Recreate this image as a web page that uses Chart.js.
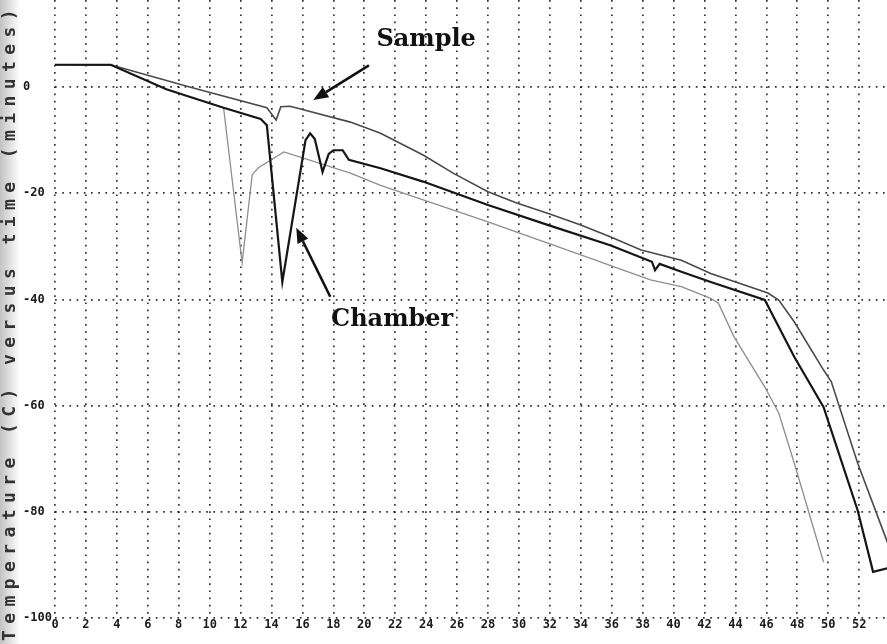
<!DOCTYPE html>
<html>
<head>
<meta charset="utf-8">
<script src="https://cdn.jsdelivr.net/npm/chart.js@4.4.1/dist/chart.umd.min.js"></script>
<style>
  html, body { margin: 0; padding: 0; background: #fff; }
  #wrap { width: 887px; height: 644px; position: relative; }
</style>
</head>
<body>
<div id="wrap"><canvas id="c" width="887" height="644"></canvas></div>
<script>
// ---- Data (time in minutes, temperature in °C) ----
const sampleTime = [0, 3.7, 8.7, 13.7, 14.3, 14.6, 15.2, 19.1, 21.05, 23.8, 25.8, 28, 29.9, 31.9, 34, 35.9, 37.9, 40.5, 42.4, 46.1, 46.8, 47.8, 49.7, 50.2, 51.9, 53.9];
const sampleTemp = [4.2, 4.1, 0, -3.9, -6.2, -3.7, -3.6, -6.6, -8.7, -12.8, -16.3, -19.7, -21.9, -23.8, -26, -28.2, -30.7, -32.6, -35.1, -38.8, -40.1, -44.2, -53.3, -55.5, -70.8, -86.3];

const chamberTime = [0, 3.6, 7.2, 10.9, 13.3, 13.7, 14.7, 16.2, 16.5, 16.8, 17.3, 17.7, 18.0, 18.6, 19.0, 21.05, 23.8, 28, 31.9, 35.9, 38.6, 38.8, 39.1, 40.5, 42.4, 45.9, 47.8, 49.7, 51.9, 52.9, 53.9];
const chamberTemp = [4.2, 4.2, -0.4, -3.9, -6.0, -7.2, -36.7, -10, -8.7, -9.8, -16.0, -12.6, -11.9, -11.9, -13.7, -15.3, -17.8, -22.2, -26, -29.8, -32.9, -34.5, -33.3, -34.8, -36.7, -40.1, -50.8, -60.3, -79.7, -91.3, -90.6];

const thirdTime = [10.9, 12.1, 12.75, 13.15, 14.8, 19.1, 21.05, 28, 34, 38.5, 40.5, 42.4, 42.9, 43.9, 45.9, 46.8, 47.8, 49.7];
const thirdTemp = [-3.9, -33.1, -16.5, -15.2, -12.2, -16.2, -18.5, -25.4, -31.6, -36.3, -37.6, -39.8, -40.7, -47, -56.5, -61.4, -70.8, -89.5];

const xTickValues = [0,2,4,6,8,10,12,14,16,18,20,22,24,26,28,30,32,34,36,38,40,42,44,46,48,50,52];
const yTickValues = [-100,-80,-60,-40,-20,0];
const axisTitle = 'Temperature (C) versus time (minutes)';

// annotations: [label, textX, textY, arrowTailX, arrowTailY, arrowTipX, arrowTipY] in data units
const annotSample = ['Sample', 24.0, 8.85, 20.3, 4.1, 16.7, -2.45];
const annotChamber = ['Chamber', 21.8, -43.9, 17.8, -39.5, 15.6, -26.5];

function toPts(xs, ys) { return xs.map((x, i) => ({ x: x, y: ys[i] })); }

const bgPlugin = {
  id: 'bg',
  beforeDraw(chart) {
    const ctx = chart.ctx;
    ctx.save();
    ctx.fillStyle = '#ffffff';
    ctx.fillRect(0, 0, chart.width, chart.height);
    const g = ctx.createLinearGradient(0, 0, 20, 0);
    g.addColorStop(0, 'rgba(120,120,120,0.45)');
    g.addColorStop(1, 'rgba(120,120,120,0)');
    ctx.fillStyle = g;
    ctx.fillRect(0, 0, 20, chart.height);
    ctx.restore();
  }
};

const annotPlugin = {
  id: 'annot',
  afterDraw(chart) {
    const ctx = chart.ctx;
    const xs = chart.scales.x, ys = chart.scales.y;
    // axis title (vertical)
    ctx.save();
    ctx.translate(10, 322);
    ctx.rotate(-Math.PI / 2);
    ctx.font = 'bold 18px "DejaVu Sans Mono", monospace';
    try { ctx.letterSpacing = '6.4px'; } catch (e) {}
    ctx.fillStyle = '#333';
    ctx.textAlign = 'center';
    ctx.textBaseline = 'middle';
    ctx.fillText(axisTitle, 0, 0);
    ctx.restore();

    [annotSample, annotChamber].forEach(a => {
      const tx = xs.getPixelForValue(a[1]), ty = ys.getPixelForValue(a[2]);
      const x1 = xs.getPixelForValue(a[3]), y1 = ys.getPixelForValue(a[4]);
      const x2 = xs.getPixelForValue(a[5]), y2 = ys.getPixelForValue(a[6]);
      ctx.save();
      ctx.fillStyle = '#111';
      ctx.strokeStyle = '#111';
      ctx.font = 'bold 24px "DejaVu Serif", serif';
      ctx.textAlign = 'center';
      ctx.textBaseline = 'middle';
      ctx.fillText(a[0], tx, ty);
      const ang = Math.atan2(y2 - y1, x2 - x1);
      const headLen = 15, headW = 6;
      const bx = x2 - headLen * Math.cos(ang), by = y2 - headLen * Math.sin(ang);
      ctx.lineWidth = 2.6;
      ctx.beginPath();
      ctx.moveTo(x1, y1);
      ctx.lineTo(bx, by);
      ctx.stroke();
      ctx.beginPath();
      ctx.moveTo(x2, y2);
      ctx.lineTo(bx + headW * Math.sin(ang), by - headW * Math.cos(ang));
      ctx.lineTo(bx - headW * Math.sin(ang), by + headW * Math.cos(ang));
      ctx.closePath();
      ctx.fill();
      ctx.restore();
    });
  }
};

const gridStyle = {
  color: 'rgba(0,0,0,0.8)',
  lineWidth: 1.7,
  drawTicks: false
};
const borderStyle = { display: false, dash: [1.7, 5.5] };

new Chart(document.getElementById('c'), {
  type: 'line',
  data: {
    datasets: [
      { label: 'Sample', data: toPts(sampleTime, sampleTemp), borderColor: '#4a4a4a', borderWidth: 1.6, pointRadius: 0, tension: 0, order: 2 },
      { label: 'Third', data: toPts(thirdTime, thirdTemp), borderColor: '#8e8e8e', borderWidth: 1.3, pointRadius: 0, tension: 0, order: 3 },
      { label: 'Chamber', data: toPts(chamberTime, chamberTemp), borderColor: '#151515', borderWidth: 2.2, pointRadius: 0, tension: 0, order: 1 }
    ]
  },
  options: {
    responsive: false,
    animation: false,
    events: [],
    layout: { padding: { left: 23, top: 0, right: 0, bottom: 0 } },
    plugins: { legend: { display: false }, tooltip: { enabled: false }, title: { display: false } },
    scales: {
      x: {
        type: 'linear',
        min: 0, max: 53.8,
        afterBuildTicks(s) { s.ticks = xTickValues.map(v => ({ value: v })); },
        afterFit(s) { s.height = 26; s.paddingLeft = 0; s.paddingRight = 0; },
        ticks: {
          autoSkip: false, maxRotation: 0, padding: 0,
          color: '#1a1a1a',
          font: { family: '"DejaVu Sans Mono", monospace', size: 12, weight: 'bold' },
          callback: v => String(v)
        },
        grid: gridStyle,
        border: borderStyle
      },
      y: {
        type: 'linear',
        min: -100, max: 16.4,
        afterBuildTicks(s) { s.ticks = yTickValues.map(v => ({ value: v })); },
        afterFit(s) { s.width = 32; s.paddingTop = 0; s.paddingBottom = 0; },
        ticks: {
          autoSkip: false, padding: 0, crossAlign: 'far',
          color: '#1a1a1a',
          font: { family: '"DejaVu Sans Mono", monospace', size: 12, weight: 'bold' },
          callback: v => String(v)
        },
        grid: gridStyle,
        border: borderStyle
      }
    }
  },
  plugins: [bgPlugin, annotPlugin]
});
</script>
</body>
</html>
